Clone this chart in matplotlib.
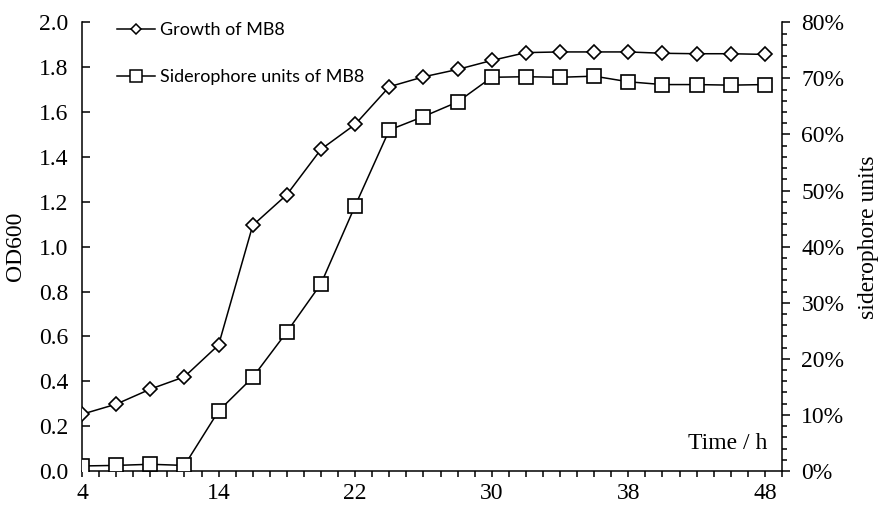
import matplotlib
matplotlib.use("Agg")
import matplotlib.pyplot as plt
import numpy as np
from matplotlib.lines import Line2D
from matplotlib.ticker import MultipleLocator, PercentFormatter, FixedLocator

# growth (OD600) and siderophore units, one value per sampling point
growth = [0.253, 0.298, 0.365, 0.42, 0.562, 1.095, 1.232, 1.434, 1.545, 1.713,
          1.757, 1.79, 1.83, 1.865, 1.868, 1.868, 1.868, 1.862, 1.86, 1.86, 1.857]
sidero = [0.009, 0.010, 0.012, 0.010, 0.107, 0.167, 0.248, 0.334, 0.473, 0.608,
          0.632, 0.658, 0.702, 0.703, 0.702, 0.704, 0.694, 0.689, 0.689, 0.688, 0.689]
tick_idx = [0, 4, 8, 12, 16, 20]
tick_lab = ['4', '14', '22', '30', '38', '48']

SERIF = 'Liberation Serif'
FS = 17

X = np.arange(len(growth))

fig = plt.figure(figsize=(8.8, 5.05), dpi=100)
ax = fig.add_axes([0.0932, 0.0673, 0.7954, 0.8885])
ax2 = ax.twinx()

ax.plot(X, growth, color='k', lw=1.1, marker='D', ms=7.2, mfc='white', mec='k', mew=1.2, zorder=3)
ax2.plot(X, sidero, color='k', lw=1.1, marker='s', ms=10, mfc='white', mec='k', mew=1.2, zorder=3)

ax.set_xlim(0, 20.5)
ax.set_ylim(0, 2.0)
ax2.set_ylim(0, 0.8)

ax.set_xticks(tick_idx)
ax.set_xticklabels(tick_lab)
ax.xaxis.set_minor_locator(FixedLocator(np.arange(0, 20.6, 0.5)))
ax.set_yticks(np.arange(0, 2.01, 0.2))
ax.set_yticklabels(['%.1f' % v for v in np.arange(0, 2.01, 0.2)])

ax2.yaxis.set_major_locator(MultipleLocator(0.1))
ax2.yaxis.set_minor_locator(MultipleLocator(0.02))
ax2.yaxis.set_major_formatter(PercentFormatter(1.0, decimals=0))

for s in ['top', 'right']:
    ax.spines[s].set_visible(False)
for s in ['top', 'left', 'bottom']:
    ax2.spines[s].set_visible(False)
for sp in [ax.spines['left'], ax.spines['bottom'], ax2.spines['right']]:
    sp.set_linewidth(1.1)

ax.tick_params(axis='x', which='both', direction='out', length=4, width=1.1, pad=4.5)
ax.tick_params(axis='y', direction='in', length=6, width=1.1, pad=10)
ax2.tick_params(axis='y', which='major', direction='out', length=6, width=1.1, pad=8)
ax2.tick_params(axis='y', which='minor', direction='out', length=3.5, width=1.1)

for lab in ax.get_xticklabels() + ax.get_yticklabels() + ax2.get_yticklabels():
    lab.set_fontfamily(SERIF)
    lab.set_fontsize(FS)

ax.set_ylabel('OD600', family=SERIF, fontsize=FS, labelpad=9)
ax2.set_ylabel('siderophore units', family=SERIF, fontsize=FS, labelpad=10)
ax2.yaxis.label.set_y(0.52)
ax.text(0.979, 0.049, 'Time / h', transform=ax.transAxes, ha='right', va='baseline',
        family=SERIF, fontsize=FS)

handles = [Line2D([], [], color='k', lw=1.1, marker='D', ms=5, mfc='white', mec='k', mew=1.1),
           Line2D([], [], color='k', lw=1.1, marker='s', ms=8, mfc='white', mec='k', mew=1.1)]
ax2.legend(handles, ['Growth of MB8', 'Siderophore units of MB8'], loc='upper left',
           bbox_to_anchor=(0.05, 1.0), frameon=False, borderpad=0, borderaxespad=0,
           handlelength=2.1, handletextpad=0.3, labelspacing=1.72,
           prop={'family': 'Lato', 'size': 13})

plt.savefig('out.png', dpi=100)
